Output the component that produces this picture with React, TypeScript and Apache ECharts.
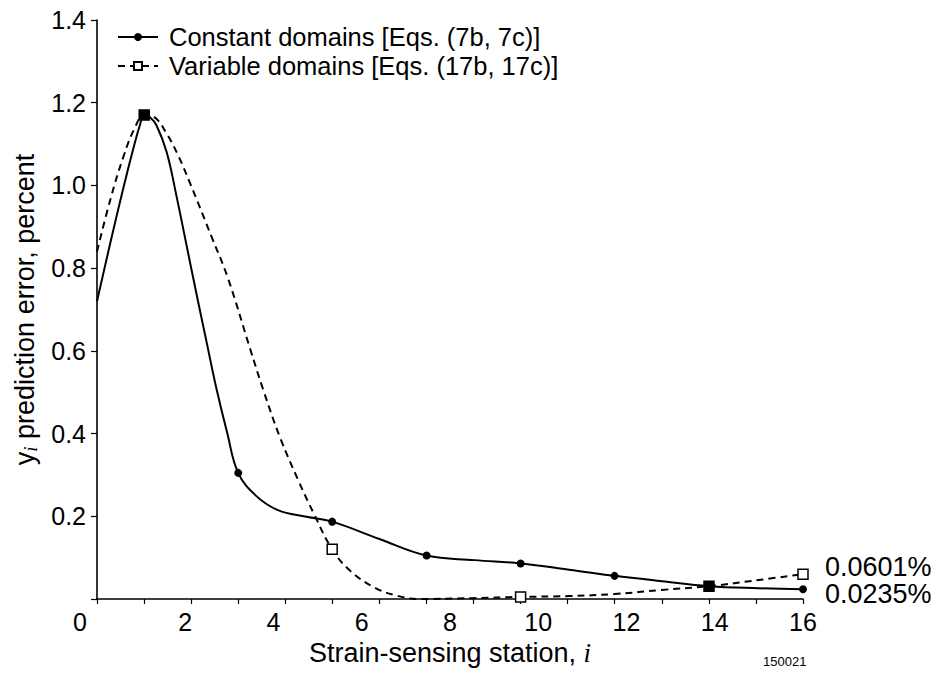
import React, { useEffect, useRef } from "react";
import * as echarts from "echarts";

// Strain-sensing stations carrying markers
const constantStationX = [1.07, 3.2, 5.33, 7.47, 9.6, 11.73, 13.87, 16];
const constantStationY = [1.17, 0.305, 0.187, 0.105, 0.086, 0.056, 0.031, 0.0235];
const variableStationX = [1.07, 5.33, 9.6, 13.87, 16];
const variableStationY = [1.17, 0.12, 0.005, 0.031, 0.0601];

// Points (no markers)
const constantCurveX = [0, 0.3, 0.6, 0.85, 0.97, 1.2, 1.35, 1.58, 1.81, 2.03, 2.26, 2.49, 2.7, 2.95, 3.6, 4.1, 4.75, 6.4, 8.55, 10.7, 12.8, 15.0];
const constantCurveY = [0.72, 0.86, 0.995, 1.1, 1.145, 1.165, 1.145, 1.08, 0.97, 0.855, 0.735, 0.618, 0.512, 0.402, 0.25, 0.215, 0.199, 0.145, 0.094, 0.071, 0.043, 0.026];
const variableCurveX = [0, 0.3, 0.6, 0.86, 1.3, 1.58, 1.85, 2.11, 2.6, 2.97, 3.47, 3.77, 4.15, 4.57, 4.92, 5.74, 6.3, 6.8, 7.3, 8.5, 10.7, 11.73, 12.8, 15.0];
const variableCurveY = [0.84, 0.965, 1.07, 1.14, 1.165, 1.125, 1.07, 1.005, 0.875, 0.775, 0.605, 0.505, 0.39, 0.285, 0.205, 0.068, 0.027, 0.008, 0.0, 0.002, 0.007, 0.012, 0.022, 0.046];

const xTickPositions = ["0", "1", "2", "3", "4", "5", "6", "7", "8", "9", "10", "11", "12", "13", "14", "15"];

const seriesNames = ["Constant domains [Eqs. (7b, 7c)]", "Variable domains [Eqs. (17b, 17c)]"];
const figureId = "150021";

const FONT = "'Liberation Sans', Arial, Helvetica, sans-serif";

function buildData(
  sx: number[],
  sy: number[],
  cx: number[],
  cy: number[],
  itemFor: (x: number, y: number) => any
) {
  const pts: any[] = [];
  sx.forEach((x, i) => pts.push({ x, y: sy[i], station: true }));
  cx.forEach((x, i) => pts.push({ x, y: cy[i], station: false }));
  pts.sort((a, b) => a.x - b.x);
  return pts.map((p) =>
    p.station ? { value: [p.x, p.y], ...itemFor(p.x, p.y) } : { value: [p.x, p.y], symbol: "none" }
  );
}

export default function App() {
  const ref = useRef<HTMLDivElement>(null);
  useEffect(() => {
    const chart = echarts.init(ref.current!, null, { renderer: "svg" });

    const constantData = buildData(constantStationX, constantStationY, constantCurveX, constantCurveY, () => ({}));
    const variableData = buildData(variableStationX, variableStationY, variableCurveX, variableCurveY, (x, y) => {
      const k = constantStationX.findIndex((v) => Math.abs(v - x) < 1e-6);
      const overlaps = k >= 0 && Math.abs(constantStationY[k] - y) < 0.01;
      return overlaps ? { itemStyle: { color: "#000" } } : {};
    });

    const endLabel = (dy: number) => ({
      show: true,
      formatter: (p: any) => `${p.value[1]}%`,
      offset: [14, dy],
      fontSize: 27,
      fontFamily: FONT,
      color: "#000",
    });

    chart.setOption({
      animation: false,
      backgroundColor: "#fff",
      textStyle: { fontFamily: FONT, color: "#000" },
      grid: { left: 97, right: 132, top: 20, bottom: 75, containLabel: false, outerBoundsMode: "none" },
      legend: {
        orient: "vertical",
        left: 112,
        top: 19,
        itemWidth: 40,
        itemHeight: 10,
        itemGap: 3,
        data: seriesNames,
        textStyle: { fontSize: 25.5, fontFamily: FONT, color: "#000", padding: [0, 0, 0, 6] },
      },
      xAxis: [
        {
          type: "value",
          min: 0,
          max: 16,
          interval: 2,
          name: "Strain-sensing station, {i|i}",
          nameLocation: "middle",
          nameGap: 40,
          nameTextStyle: {
            fontSize: 27,
            fontFamily: FONT,
            color: "#000",
            rich: { i: { fontSize: 27, fontStyle: "italic", fontFamily: "'Liberation Serif', serif", color: "#000" } },
          },
          axisLine: { show: true, lineStyle: { color: "#000", width: 1.6 } },
          axisTick: { show: false },
          splitLine: { show: false },
          axisLabel: {
            margin: 10,
            fontSize: 25,
            fontFamily: FONT,
            color: "#000",
            formatter: (v: number) => (v === 0 ? "{z|0}" : String(v)),
            rich: { z: { fontSize: 25, fontFamily: FONT, color: "#000", padding: [0, 34, 0, 0] } },
          },
        },
        {
          type: "category",
          data: xTickPositions,
          boundaryGap: false,
          position: "bottom",
          axisLine: { show: false },
          axisTick: { show: true, interval: 0, length: 5, lineStyle: { color: "#000", width: 1.2 } },
          axisLabel: { show: false },
          splitLine: { show: false },
        },
      ],
      yAxis: {
        type: "value",
        min: 0,
        max: 1.4,
        interval: 0.2,
        name: "y{i|i} prediction error, percent",
        nameLocation: "middle",
        nameGap: 47,
        nameTextStyle: {
          fontSize: 27,
          fontFamily: FONT,
          color: "#000",
          rich: {
            i: { fontSize: 19, fontStyle: "italic", fontFamily: "'Liberation Serif', serif", color: "#000", padding: [11, 0, 0, 0] },
          },
        },
        axisLine: { show: true, lineStyle: { color: "#000", width: 1.6 } },
        axisTick: { show: true, length: 6, lineStyle: { color: "#000", width: 1.2 } },
        splitLine: { show: false },
        axisLabel: {
          margin: 11,
          fontSize: 25,
          fontFamily: FONT,
          color: "#000",
          formatter: (v: number) => (v === 0 ? "" : v.toFixed(1)),
        },
      },
      series: [
        {
          name: seriesNames[0],
          type: "line",
          xAxisIndex: 0,
          data: constantData,
          smooth: 0.4,
          symbol: "circle",
          symbolSize: 8,
          lineStyle: { color: "#000", width: 2 },
          itemStyle: { color: "#000" },
          endLabel: endLabel(5),
          z: 2,
        },
        {
          name: seriesNames[1],
          type: "line",
          xAxisIndex: 0,
          data: variableData,
          smooth: 0.4,
          symbol: "rect",
          symbolSize: 10,
          lineStyle: { color: "#000", width: 2, type: [7, 5] },
          itemStyle: { color: "#fff", borderColor: "#000", borderWidth: 1.5 },
          endLabel: endLabel(-7),
          z: 3,
        },
      ],
      graphic: [
        {
          type: "text",
          left: 763,
          top: 655,
          style: { text: figureId, fontSize: 13, fontFamily: FONT, fill: "#000" },
        },
      ],
    });
    return () => chart.dispose();
  }, []);
  return <div ref={ref} style={{ position: "absolute", left: 0, top: 0, width: 935, height: 674 }} />;
}
